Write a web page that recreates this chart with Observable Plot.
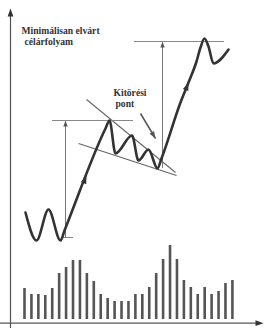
<!DOCTYPE html>
<html>
<head>
<meta charset="utf-8">
<script src="https://cdn.jsdelivr.net/npm/d3@7"></script>
<script src="https://cdn.jsdelivr.net/npm/@observablehq/plot@0.6"></script>
<style>
  html, body { margin: 0; padding: 0; background: #fff; }
  #chart svg { display: block; }
</style>
</head>
<body>
<div id="chart"></div>
<script>
// ---- data (time units, price units) ----
const priceTime  = [25, 36, 48, 60, 64, 105, 109, 115, 131.5, 138, 148, 157, 161, 180, 188, 196, 200, 204, 208, 213, 228];
const priceValue = [116, 88, 119, 88, 98, 200, 208, 175, 193, 168, 179, 160, 170, 226, 246, 267, 281, 290, 282, 265, 279];

const volume = [31, 25, 25, 24, 31, 46, 52, 59, 59, 46, 38, 25, 21, 18, 18, 18,
                25, 25, 32, 46, 60, 74, 60, 39, 32, 25, 32, 25, 28, 36, 39];

// pennant trendlines [t1, p1, t2, p2]
const upperTrend = [86, 229, 175, 156];
const lowerTrend = [78, 185, 176, 153];

// measured moves: flagpole height and projected target
const poleBase = 91, poleTop = 208, poleTime = 65;
const targetBase = 160, targetTop = 287, targetTime = 162;

// breakout pointer [t1, p1, t2, p2]
const pointer = [140, 215, 155, 190];

const labels = ["Minimálisan elvárt", "célárfolyam", "Kitörési", "pont"];
const labelTime = [21, 24, 113, 115];
const labelPrice = [295, 284, 233, 222];

// ---- derived tables ----
const price = priceTime.map((t, i) => ({t, p: priceValue[i]}));
const bars = volume.map((v, i) => ({i, v}));
const angle = (x1, y1, x2, y2) => Math.atan2(x2 - x1, y2 - y1) * 180 / Math.PI;

const head = {
  draw(ctx, size) {
    const r = Math.sqrt(size / Math.PI);
    ctx.moveTo(0, 0);
    ctx.lineTo(-0.36 * r * 2, 2 * r);
    ctx.lineTo(0.36 * r * 2, 2 * r);
    ctx.closePath();
  }
};

const priceHeads = [
  {t: 86, p: priceValue[4] + (86 - priceTime[4]) * (priceValue[5] - priceValue[4]) / (priceTime[5] - priceTime[4]),
   a: angle(priceTime[4], priceValue[4], priceTime[5], priceValue[5])},
  {t: priceTime[14], p: priceValue[14], a: angle(priceTime[13], priceValue[13], priceTime[15], priceValue[15])}
];

const W = 264, H = 328;

const chart = Plot.plot({
  width: W, height: H, margin: 0,
  x: {domain: [0, W], axis: null},
  y: {domain: [0, H], axis: null},
  style: {background: "#fff", overflow: "visible"},
  marks: [
    // volume bars
    Plot.ruleX(bars, {x: d => 24 + d.i * 6.93, y1: 9, y2: d => 9 + d.v, stroke: "#555", strokeWidth: 2.6}),
    // axes
    Plot.ruleX([10], {y1: 0, y2: 314, stroke: "#555", strokeWidth: 1.2}),
    Plot.ruleY([5.3], {x1: 0, x2: 256, stroke: "#555", strokeWidth: 1.2}),
    Plot.dot([{t: 10, p: 320, a: 0}, {t: 263, p: 5.3, a: 90}],
      {x: "t", y: "p", rotate: "a", symbol: head, r: 4, fill: "#333", stroke: "none"}),
    // pennant trendlines
    Plot.link([upperTrend, lowerTrend], {x1: d => d[0], y1: d => d[1], x2: d => d[2], y2: d => d[3], stroke: "#666", strokeWidth: 1.1}),
    // measured-move guides
    Plot.ruleY([poleTop], {x1: 52, x2: 133, stroke: "#888", strokeWidth: 1}),
    Plot.ruleY([poleBase], {x1: 62, x2: 73, stroke: "#888", strokeWidth: 1}),
    Plot.ruleX([poleTime], {y1: poleBase, y2: poleTop - 4, stroke: "#777", strokeWidth: 1}),
    Plot.ruleY([targetTop], {x1: 134, x2: 224, stroke: "#888", strokeWidth: 1}),
    Plot.ruleX([targetTime], {y1: targetBase, y2: targetTop - 4, stroke: "#777", strokeWidth: 1}),
    Plot.dot([{t: poleTime, p: poleTop, a: 0}, {t: targetTime, p: targetTop, a: 0}],
      {x: "t", y: "p", rotate: "a", symbol: head, r: 3, fill: "#555", stroke: "none"}),
    // breakout pointer
    Plot.link([pointer], {x1: d => d[0], y1: d => d[1], x2: d => d[2], y2: d => d[3], stroke: "#555", strokeWidth: 1.5}),
    Plot.dot([{t: pointer[2], p: pointer[3], a: angle(...pointer)}],
      {x: "t", y: "p", rotate: "a", symbol: head, r: 3.6, fill: "#555", stroke: "none"}),
    // price path
    Plot.line(price, {x: "t", y: "p", curve: "monotone-x", stroke: "#333", strokeWidth: 2.6, strokeLinejoin: "round", strokeLinecap: "round"}),
    Plot.dot(priceHeads, {x: "t", y: "p", rotate: "a", symbol: head, r: 4, fill: "#333", stroke: "none"}),
    // labels
    Plot.text(labels, {x: (d, i) => labelTime[i], y: (d, i) => labelPrice[i], text: d => d,
      textAnchor: "start", lineAnchor: "bottom", fontFamily: "Liberation Serif", fontWeight: "bold",
      fontSize: 9.6, fill: "#333"})
  ]
});
document.getElementById("chart").appendChild(chart);
</script>
</body>
</html>
